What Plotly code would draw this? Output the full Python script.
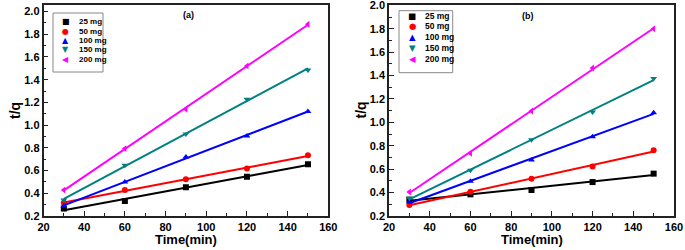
import numpy as np
import plotly.graph_objects as go

time_min = [30, 60, 90, 120, 150]
series_names = ["25 mg", "50 mg", "100 mg", "150 mg", "200 mg"]

# panel (a)
a_25 = [0.265, 0.332, 0.452, 0.546, 0.655]
a_50 = [0.317, 0.429, 0.523, 0.617, 0.734]
a_100 = [0.288, 0.500, 0.720, 0.905, 1.119]
a_150 = [0.341, 0.646, 0.922, 1.228, 1.486]
a_200 = [0.429, 0.793, 1.140, 1.521, 1.888]

# panel (b)
b_25 = [0.340, 0.385, 0.422, 0.490, 0.562]
b_50 = [0.294, 0.408, 0.519, 0.622, 0.761]
b_100 = [0.320, 0.496, 0.678, 0.878, 1.083]
b_150 = [0.351, 0.590, 0.852, 1.089, 1.376]
b_200 = [0.405, 0.735, 1.097, 1.465, 1.800]

x_ticks = [20, 40, 60, 80, 100, 120, 140, 160]
y_ticks = [0.2, 0.4, 0.6, 0.8, 1.0, 1.2, 1.4, 1.6, 1.8, 2.0]

colors = ["#000000", "#ff0000", "#0000ff", "#008080", "#ff00ff"]
symbols = ["square", "circle", "triangle-up", "triangle-down", "triangle-left"]
glyphs = ["\u25a0", "\u25cf", "\u25b2", "\u25bc", "\u25c0"]

W, H = 685, 250
FONT = "Liberation Sans, Arial, sans-serif"

panels = [
    dict(data=[a_25, a_50, a_100, a_150, a_200], xpx=(43.5, 328.3), yrange=[0.2, 2.057],
         xa="x", ya="y", label="(a)", label_px=(188, 15),
         box=(53, 13, 103, 72), mk_x=65.7, tx_x=76.5, row0=21.7, rowstep=9.4, lfs=8),
    dict(data=[b_25, b_50, b_100, b_150, b_200], xpx=(389, 674), yrange=[0.2, 2.003],
         xa="x2", ya="y2", label="(b)", label_px=(528, 16),
         box=(399, 10.7, 452.7, 72.7), mk_x=412, tx_x=422.5, row0=15.7, rowstep=10.7, lfs=8.5),
]

TOP, BOT = 5, 216
fig = go.Figure()
annotations = []
shapes = []

for p in panels:
    xs = np.array(time_min, dtype=float)
    for i, ys in enumerate(p["data"]):
        ys = np.array(ys)
        k, b = np.polyfit(xs, ys, 1)
        xl = np.array([xs[0], xs[-1]])
        fig.add_trace(go.Scatter(x=xl, y=k * xl + b, mode="lines",
                                 line=dict(color=colors[i], width=2),
                                 xaxis=p["xa"], yaxis=p["ya"], showlegend=False, hoverinfo="skip"))
        fig.add_trace(go.Scatter(x=xs, y=ys, mode="markers", name=series_names[i],
                                 marker=dict(symbol=symbols[i], color=colors[i], size=6),
                                 xaxis=p["xa"], yaxis=p["ya"], showlegend=False))
    x0, x1 = p["xpx"]
    xd = lambda px: (px - x0) / (x1 - x0)
    yd = lambda py: (BOT - py) / (BOT - TOP)
    xref = p["xa"] + " domain"
    yref = p["ya"] + " domain"
    bx0, by0, bx1, by1 = p["box"]
    shapes.append(dict(type="rect", xref=xref, yref=yref, x0=xd(bx0), x1=xd(bx1),
                       y0=yd(by1), y1=yd(by0), line=dict(color="#888888", width=1),
                       fillcolor="white", layer="above"))
    for i, name in enumerate(series_names):
        ry = p["row0"] + i * p["rowstep"]
        annotations.append(dict(xref=xref, yref=yref, x=xd(p["mk_x"]), y=yd(ry), text=glyphs[i],
                                showarrow=False, xanchor="center", yanchor="middle",
                                font=dict(family="DejaVu Sans", size=p["lfs"], color=colors[i])))
        annotations.append(dict(xref=xref, yref=yref, x=xd(p["tx_x"]), y=yd(ry), text="<b>%s</b>" % name,
                                showarrow=False, xanchor="left", yanchor="middle",
                                font=dict(family=FONT, size=p["lfs"], color="#000000")))
    annotations.append(dict(xref=xref, yref=yref, x=xd(p["label_px"][0]), y=yd(p["label_px"][1]),
                            text="<b>%s</b>" % p["label"], showarrow=False, xanchor="center",
                            yanchor="middle", font=dict(family=FONT, size=9, color="#000000")))
    # axis titles
    annotations.append(dict(xref=xref, yref="paper", x=0.5, y=0, yshift=1,
                            text="<b>Time(min)</b>", showarrow=False, xanchor="center", yanchor="bottom",
                            font=dict(family=FONT, size=13, color="#000000")))
    annotations.append(dict(xref="paper", yref=yref, x=(x0 - 29) / W, y=0.5, textangle=-90,
                            text="<b>t/q</b>", showarrow=False, xanchor="center", yanchor="middle",
                            font=dict(family=FONT, size=14, color="#000000")))


def xaxis(dom):
    return dict(domain=dom, range=[20, 160], tickvals=x_ticks, ticktext=["<b>%d</b>" % v for v in x_ticks],
                ticks="inside", ticklen=5, tickwidth=1.3, tickcolor="#222",
                minor=dict(ticks="inside", ticklen=3, dtick=10, tickcolor="#222", tickwidth=1.2),
                showline=True, linecolor="#222", linewidth=1.5, mirror=True, showgrid=False,
                zeroline=False, tickfont=dict(family=FONT, size=11, color="#000"), automargin=False,
                ticklabeloverflow="allow")


def yaxis(rng, anchor):
    return dict(domain=[(H - BOT) / H, (H - TOP) / H], range=rng, tickvals=y_ticks,
                ticktext=["<b>%.1f</b>" % v for v in y_ticks], anchor=anchor,
                ticks="inside", ticklen=5, tickwidth=1.3, tickcolor="#222",
                minor=dict(ticks="inside", ticklen=3, dtick=0.1, tick0=0.2, tickcolor="#222", tickwidth=1.2),
                showline=True, linecolor="#222", linewidth=1.5, mirror=True, showgrid=False,
                zeroline=False, tickfont=dict(family=FONT, size=11, color="#000"), automargin=False,
                ticklabeloverflow="allow")


fig.update_layout(
    width=W, height=H, margin=dict(l=0, r=0, t=0, b=0),
    paper_bgcolor="white", plot_bgcolor="white",
    xaxis=xaxis([43.5 / W, 328.3 / W]) | dict(anchor="y"),
    yaxis=yaxis(panels[0]["yrange"], "x"),
    xaxis2=xaxis([389 / W, 674 / W]) | dict(anchor="y2"),
    yaxis2=yaxis(panels[1]["yrange"], "x2"),
    annotations=annotations, shapes=shapes, showlegend=False,
)

fig.write_html("out.html", config={"displayModeBar": False},
               post_script="document.body.style.margin='0';document.body.style.overflow='hidden';")
